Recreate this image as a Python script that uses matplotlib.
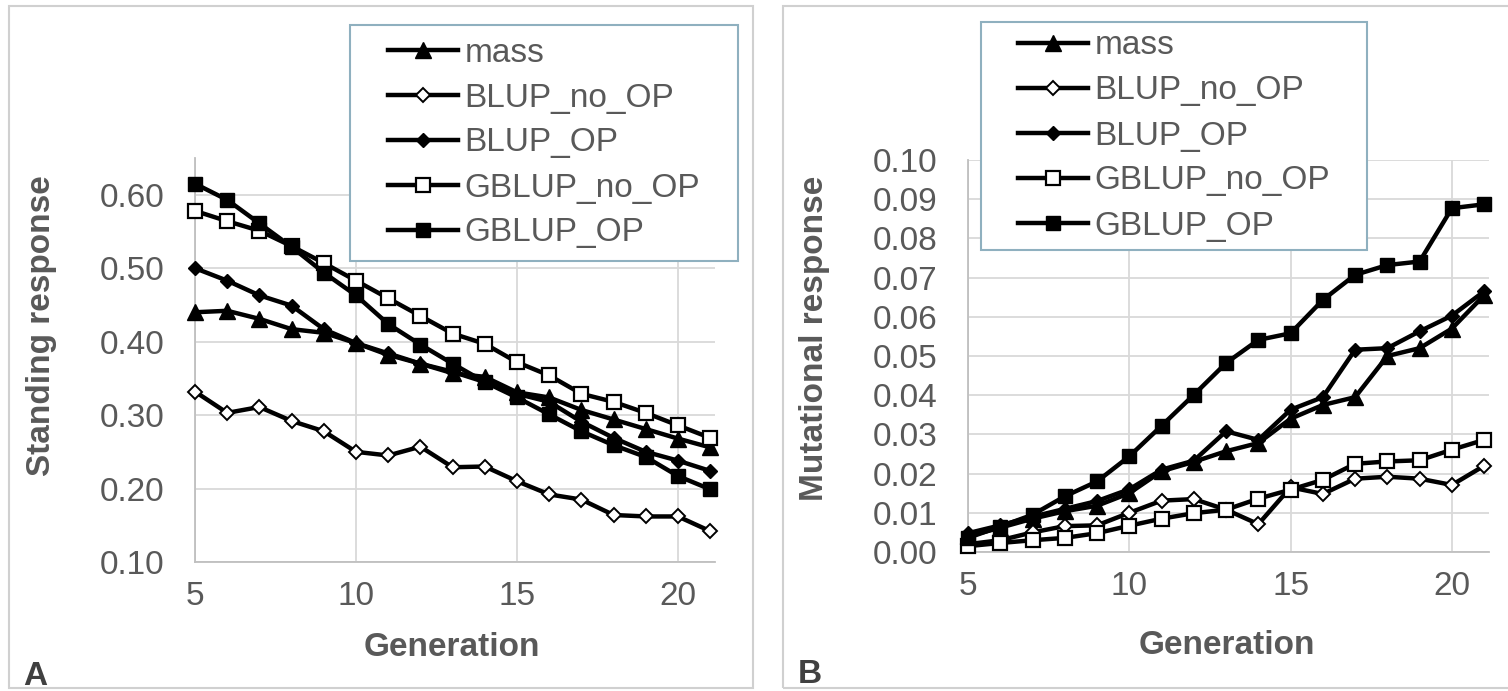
import matplotlib
matplotlib.use("Agg")
import matplotlib.pyplot as plt
from matplotlib.patches import Rectangle
from matplotlib.lines import Line2D

plt.rcParams['font.family'] = ['Liberation Sans', 'DejaVu Sans']

generations = list(range(5, 22))
series_names = ["mass", "BLUP_no_OP", "BLUP_OP", "GBLUP_no_OP", "GBLUP_OP"]

# Panel A: standing response
standing_mass = [0.440, 0.442, 0.431, 0.417, 0.412, 0.398, 0.382, 0.370, 0.357,
                 0.352, 0.331, 0.324, 0.307, 0.294, 0.281, 0.268, 0.256]
standing_blup_no_op = [0.332, 0.303, 0.311, 0.292, 0.278, 0.250, 0.245, 0.257, 0.229,
                       0.230, 0.210, 0.192, 0.185, 0.164, 0.162, 0.162, 0.142]
standing_blup_op = [0.500, 0.483, 0.463, 0.449, 0.417, 0.398, 0.384, 0.370, 0.359,
                    0.345, 0.329, 0.318, 0.291, 0.269, 0.250, 0.238, 0.224]
standing_gblup_no_op = [0.578, 0.564, 0.551, 0.530, 0.507, 0.483, 0.459, 0.435, 0.411,
                        0.397, 0.372, 0.354, 0.329, 0.318, 0.303, 0.286, 0.269]
standing_gblup_op = [0.615, 0.593, 0.561, 0.529, 0.494, 0.463, 0.424, 0.396, 0.370,
                     0.345, 0.324, 0.301, 0.278, 0.259, 0.243, 0.217, 0.199]

# Panel B: mutational response
mut_mass = [0.0040, 0.0062, 0.0085, 0.0104, 0.0118, 0.0150, 0.0206, 0.0230, 0.0257,
            0.0278, 0.0340, 0.0375, 0.0395, 0.0500, 0.0520, 0.0570, 0.0655]
mut_blup_no_op = [0.0020, 0.0030, 0.0050, 0.0066, 0.0068, 0.0100, 0.0131, 0.0135, 0.0108,
                  0.0071, 0.0165, 0.0148, 0.0187, 0.0192, 0.0187, 0.0171, 0.0220]
mut_blup_op = [0.0048, 0.0068, 0.0090, 0.0110, 0.0130, 0.0160, 0.0210, 0.0233, 0.0308,
               0.0286, 0.0363, 0.0395, 0.0516, 0.0520, 0.0563, 0.0603, 0.0665]
mut_gblup_no_op = [0.0015, 0.0023, 0.0030, 0.0036, 0.0048, 0.0067, 0.0085, 0.0099, 0.0108,
                   0.0136, 0.0159, 0.0184, 0.0225, 0.0231, 0.0234, 0.0261, 0.0286]
mut_gblup_op = [0.0036, 0.0065, 0.0095, 0.0142, 0.0180, 0.0244, 0.0322, 0.0401, 0.0482,
                0.0541, 0.0558, 0.0643, 0.0707, 0.0732, 0.0741, 0.0877, 0.0887]

xticks = [5, 10, 15, 20]
yticks_a = [0.10, 0.20, 0.30, 0.40, 0.50, 0.60]
yticks_b = [0.00, 0.01, 0.02, 0.03, 0.04, 0.05, 0.06, 0.07, 0.08, 0.09, 0.10]

styles = {
    "mass": dict(marker="^", markersize=11, markerfacecolor="black", markeredgecolor="black", markeredgewidth=1.0),
    "BLUP_no_OP": dict(marker="D", markersize=7.5, markerfacecolor="white", markeredgecolor="black", markeredgewidth=1.4),
    "BLUP_OP": dict(marker="D", markersize=7.5, markerfacecolor="black", markeredgecolor="black", markeredgewidth=1.0),
    "GBLUP_no_OP": dict(marker="s", markersize=10, markerfacecolor="white", markeredgecolor="black", markeredgewidth=1.6),
    "GBLUP_OP": dict(marker="s", markersize=10, markerfacecolor="black", markeredgecolor="black", markeredgewidth=1.0),
}

W, H = 1508, 691
fig = plt.figure(figsize=(W / 100, H / 100), dpi=100)
fig.patch.set_facecolor("white")

TXT = "#595959"
GRID = "#d9d9d9"
AXL = "#bfbfbf"
LW = 3.2


def px(x0, y0, x1, y1):
    return [x0 / W, 1 - y1 / H, (x1 - x0) / W, (y1 - y0) / H]


def setup(ax, ylim, yticks, fmt):
    ax.set_xlim(5, 21.15)
    ax.set_ylim(*ylim)
    ax.set_xticks(xticks)
    ax.set_yticks(yticks)
    ax.set_yticklabels([fmt.format(v) for v in yticks])
    ax.grid(True, color=GRID, linewidth=1.3, zorder=0)
    ax.set_axisbelow(True)
    for s in ["top", "right"]:
        ax.spines[s].set_visible(False)
    for s in ["left", "bottom"]:
        ax.spines[s].set_color(AXL)
        ax.spines[s].set_linewidth(1.3)
    ax.tick_params(axis="both", length=0, labelsize=24, colors=TXT)
    ax.tick_params(axis="y", pad=22)
    ax.tick_params(axis="x", pad=14)


# Panel borders
for (x0, x1) in [(9, 753), (783, 1512)]:
    fig.patches.append(Rectangle((x0 / W, 1 - 688 / H), (x1 - x0) / W, (688 - 6) / H,
                                 transform=fig.transFigure, fill=False,
                                 edgecolor="#d0d0d0", linewidth=1.5, zorder=0))

axA = fig.add_axes(px(195, 158, 715, 562))
axB = fig.add_axes(px(968, 160, 1489, 552))

data_a = [standing_mass, standing_blup_no_op, standing_blup_op, standing_gblup_no_op, standing_gblup_op]
data_b = [mut_mass, mut_blup_no_op, mut_blup_op, mut_gblup_no_op, mut_gblup_op]

for ax, data in [(axA, data_a), (axB, data_b)]:
    for name, vals in zip(series_names, data):
        ax.plot(generations, vals, color="black", linewidth=LW, clip_on=False,
                zorder=3, **styles[name])

setup(axA, (0.10, 0.65), yticks_a, "{:.2f}")
setup(axB, (0.00, 0.10), yticks_b, "{:.2f}")

# Axis titles
fig.text(42 / W, 1 - 326 / H, "Standing response", rotation=90, ha="center", va="center",
         fontsize=24, fontweight="bold", color=TXT)
fig.text(815 / W, 1 - 338 / H, "Mutational response", rotation=90, ha="center", va="center",
         fontsize=24, fontweight="bold", color=TXT)
fig.text(452 / W, 1 - 648 / H, "Generation", ha="center", va="center",
         fontsize=24, fontweight="bold", color=TXT)
fig.text(1227 / W, 1 - 645 / H, "Generation", ha="center", va="center",
         fontsize=24, fontweight="bold", color=TXT)

# Panel letters
fig.text(23 / W, 1 - 685 / H, "A", ha="left", va="baseline", fontsize=24,
         fontweight="bold", color="#404040")
fig.text(798 / W, 1 - 683 / H, "B", ha="left", va="baseline", fontsize=24,
         fontweight="bold", color="#404040")

# Legends: frame rectangle + frameless legend
handles = [Line2D([], [], color="black", linewidth=LW, **styles[n]) for n in series_names]
for (x0, y0, x1, y1) in [(350, 25, 738, 261), (981, 22, 1367, 250)]:
    fig.patches.append(Rectangle((x0 / W, 1 - y1 / H), (x1 - x0) / W, (y1 - y0) / H,
                                 transform=fig.transFigure, facecolor="white",
                                 edgecolor="#8fb0bf", linewidth=1.5, zorder=4))
    leg = fig.legend(handles, series_names, loc="center",
                     bbox_to_anchor=(((x0 + x1) / 2) / W, 1 - ((y0 + y1) / 2) / H),
                     frameon=False, fontsize=24, labelcolor=TXT,
                     handlelength=2.1, handletextpad=0.2, labelspacing=0.42,
                     borderpad=0.0, numpoints=1)
    leg.set_zorder(5)

fig.savefig("out.png", dpi=100, facecolor="white")
